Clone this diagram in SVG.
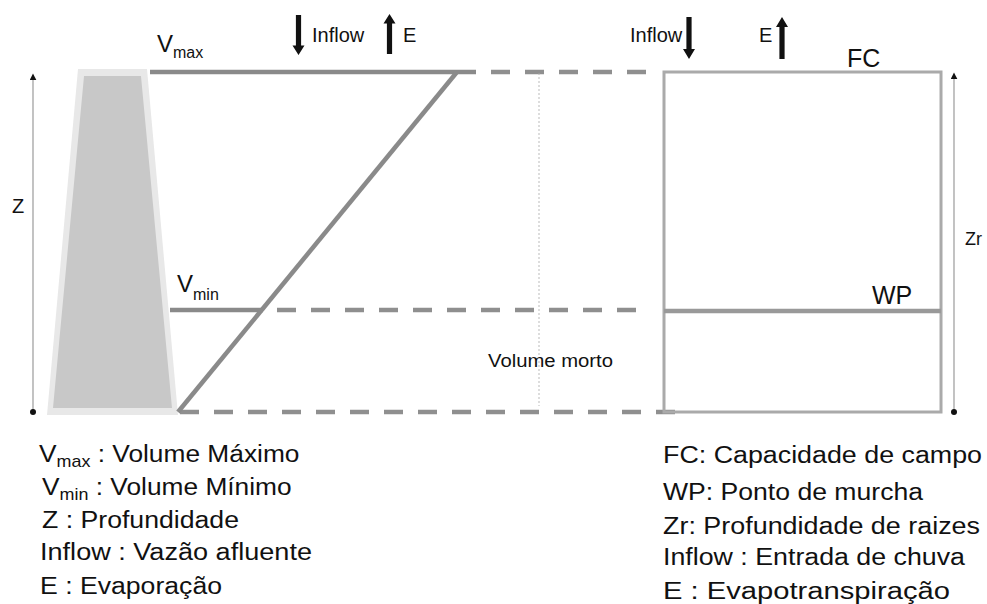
<svg xmlns="http://www.w3.org/2000/svg" width="987" height="604" viewBox="0 0 987 604">
  <style>
    text { font-family: "Liberation Sans", Arial, sans-serif; fill: #111; }
    .lbl { font-size: 20px; }
    .big { font-size: 24px; }
    .sub { font-size: 16px; }
    .leg { font-size: 23.5px; }
    .lsub { font-size: 16px; }
    .level { stroke: #8a8a8a; stroke-width: 4.5; fill: none; }
    .dash { stroke: #8f8f8f; stroke-width: 4.5; fill: none; stroke-dasharray: 19 15; }
    .box { stroke: #aaaaaa; stroke-width: 3; fill: none; }
    .axis { stroke: #9a9a9a; stroke-width: 1.2; fill: none; }
    .flux { fill: #111; }
  </style>
  <defs>
    <!-- thick block arrow, tip at the origin pointing down -->
    <polygon id="flux-down" class="flux" points="-2.6,-40 2.6,-40 2.6,-9.5 6,-9.5 0,0 -6,-9.5 -2.6,-9.5"/>
    <marker id="tip" viewBox="0 0 10 10" refX="2" refY="5" markerWidth="7" markerHeight="7" orient="auto" markerUnits="userSpaceOnUse">
      <path d="M0,0 L10,5 L0,10 Z" fill="#111"/>
    </marker>
  </defs>

  <!-- reservoir: dam cross-section -->
  <g id="dam">
    <polygon points="78,69 147,69 178,415 47,415" fill="#e8e8e8"/>
    <polygon points="84,76 141,76 172,408 53,408" fill="#c8c8c8"/>
  </g>

  <!-- reservoir levels -->
  <g id="reservoir">
    <line class="level" x1="150" y1="72" x2="476" y2="72"/>
    <line class="dash" x1="491" y1="72" x2="648" y2="72" stroke-dasharray="20 14"/>
    <line class="level" x1="170" y1="310" x2="263" y2="310"/>
    <line class="dash" x1="277" y1="310" x2="638" y2="310"/>
    <line class="dash" x1="180" y1="412" x2="676" y2="412"/>
    <line class="level" x1="178" y1="412" x2="457" y2="72" stroke-width="5.5"/>
    <line x1="539" y1="73" x2="539" y2="406" stroke="#aaaaaa" stroke-width="0.8" stroke-dasharray="2 2"/>
    <text x="488" y="367" font-size="17.5" textLength="125" lengthAdjust="spacingAndGlyphs">Volume morto</text>
  </g>

  <g id="vmax-label">
    <text class="big" x="157" y="52">V<tspan class="sub" dy="6">max</tspan></text>
  </g>
  <g id="vmin-label">
    <text class="big" x="177" y="292">V<tspan class="sub" dy="8">min</tspan></text>
  </g>

  <!-- soil column -->
  <g id="soil">
    <rect class="box" x="664" y="72" width="277" height="340"/>
    <line x1="664" y1="311" x2="941" y2="311" stroke="#999999" stroke-width="4.5"/>
    <text x="847" y="67" font-size="25">FC</text>
    <text x="872" y="304" font-size="25">WP</text>
  </g>

  <!-- depth axes and fluxes -->
  <g id="connectors">
    <line class="axis" x1="33" y1="412" x2="33" y2="79" marker-end="url(#tip)"/>
    <circle cx="33" cy="412" r="3" fill="#111"/>
    <line class="axis" x1="954" y1="412" x2="954" y2="78" marker-end="url(#tip)"/>
    <circle cx="954" cy="412" r="3" fill="#111"/>
    <use href="#flux-down" transform="translate(298.5,55)"/>
    <use href="#flux-down" transform="translate(389.5,14) rotate(180)"/>
    <use href="#flux-down" transform="translate(689,59) scale(1,1.05)"/>
    <use href="#flux-down" transform="translate(782,17) rotate(180) scale(1,1.05)"/>
  </g>

  <g id="axis-labels">
    <text x="12" y="213" font-size="20">Z</text>
    <text x="965" y="245" font-size="18">Zr</text>
    <text class="lbl" x="312" y="42">Inflow</text>
    <text class="lbl" x="403" y="42">E</text>
    <text class="lbl" x="630" y="42">Inflow</text>
    <text class="lbl" x="759" y="42">E</text>
  </g>

  <!-- legend: reservoir -->
  <g id="legend-reservoir">
    <text class="leg" transform="translate(39,462) scale(1.12,1)">V<tspan class="lsub" dy="5">max</tspan><tspan dy="-5"> : Volume Máximo</tspan></text>
    <text class="leg" transform="translate(42,495) scale(1.12,1)">V<tspan class="lsub" dy="5">min</tspan><tspan dy="-5"> : Volume Mínimo</tspan></text>
    <text class="leg" x="42" y="528" textLength="197" lengthAdjust="spacingAndGlyphs">Z : Profundidade</text>
    <text class="leg" x="40" y="560" textLength="272" lengthAdjust="spacingAndGlyphs">Inflow : Vazão afluente</text>
    <text class="leg" x="40" y="594" textLength="182" lengthAdjust="spacingAndGlyphs">E : Evaporação</text>
  </g>

  <!-- legend: soil -->
  <g id="legend-soil">
    <text class="leg" x="663" y="463" textLength="319" lengthAdjust="spacingAndGlyphs">FC: Capacidade de campo</text>
    <text class="leg" x="663" y="500" textLength="260" lengthAdjust="spacingAndGlyphs">WP: Ponto de murcha</text>
    <text class="leg" x="663" y="534" textLength="317" lengthAdjust="spacingAndGlyphs">Zr: Profundidade de raizes</text>
    <text class="leg" x="663" y="565" textLength="302" lengthAdjust="spacingAndGlyphs">Inflow : Entrada de chuva</text>
    <text class="leg" x="663" y="599" textLength="287" lengthAdjust="spacingAndGlyphs">E : Evapotranspiração</text>
  </g>
</svg>
